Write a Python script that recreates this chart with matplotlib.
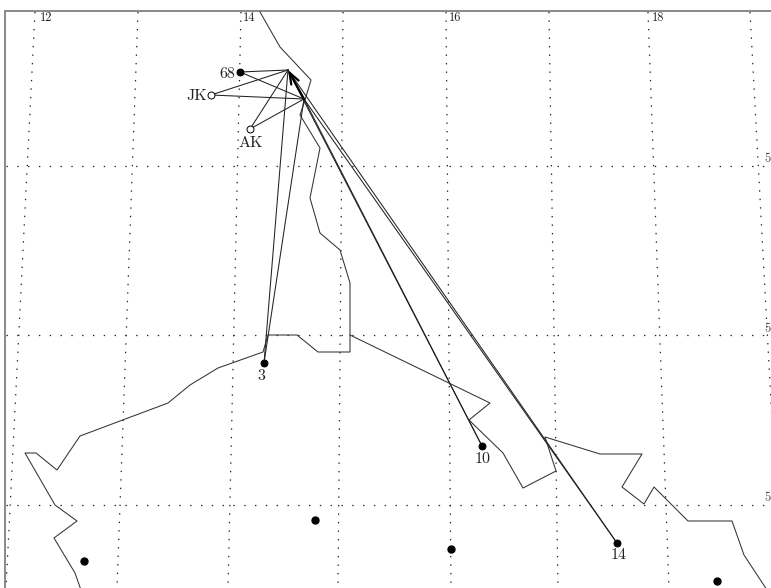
import matplotlib
matplotlib.use("Agg")
import matplotlib.pyplot as plt

W, H = 771, 588
merid_top = [35, 138, 241, 343, 446, 549, 648, 750]
merid_bot = [6, 117, 228, 338, 451, 558, 669, 781]
parallels = [165.5, 335, 505]
lon_labels = ["12", "14", "16", "18"]
lon_label_x = [40, 243, 449, 652]
lat_label = "5"
lat_label_y = [159, 329, 498]

coast_a = [(260, 12), (280, 47), (311, 80), (305, 100), (300, 115), (320, 148), (310, 198),
           (320, 233), (340, 250), (350, 283), (350, 352), (318, 352), (297, 335), (268, 335),
           (263, 352), (218, 368), (190, 385), (168, 403), (80, 436), (57, 470), (36, 453),
           (25, 453), (55, 505), (77, 521), (54, 538), (75, 573), (81, 590)]
coast_b = [(350, 335), (490, 403), (469, 420), (503, 453), (523, 488), (556, 471), (545, 437),
           (600, 454), (642, 454), (622, 487), (644, 504), (654, 487), (688, 521), (732, 521),
           (744, 555), (767, 590)]

target_a = (288, 70)
target_b = (304, 99)
ray_names = ["3", "10", "14", "68", "JK", "AK"]
ray_x = [264, 482, 617, 240, 211, 250]
ray_y = [363, 446, 543, 72, 95, 129]
ray_filled = [True, True, True, True, False, False]
label_xy = [(261, 376), (483, 459), (619, 555), (227, 74), (197, 96), (251, 143)]
other_x = [84, 315, 451, 717]
other_y = [561, 520, 549, 581]

plt.rcParams["font.family"] = ["cmr10", "DejaVu Serif"]
plt.rcParams["axes.formatter.use_mathtext"] = True
plt.rcParams["lines.scale_dashes"] = False
fig = plt.figure(figsize=(W / 100, H / 100), dpi=100)
ax = fig.add_axes([0, 0, 1, 1])
ax.set_xlim(0, W)
ax.set_ylim(H, 0)
ax.axis("off")

dots_v = (0, (1.0, 5.12))
dots_h = (0, (1.0, 6.78))
for t, b in zip(merid_top, merid_bot):
    l, = ax.plot([t, b], [12, 588], color="#222222", lw=0.9, ls=dots_v, clip_on=True)
    l.set_dash_capstyle("butt")
for y in parallels:
    l, = ax.plot([6, W], [y, y], color="#222222", lw=0.9, ls=dots_h)
    l.set_dash_capstyle("butt")

ax.plot([5, 5, W], [H, 11, 11], color="#808080", lw=1.3, solid_joinstyle="miter")

for c in (coast_a, coast_b):
    ax.plot([p[0] for p in c], [p[1] for p in c], color="#333333", lw=0.75)

for x, y in zip(ray_x, ray_y):
    ax.plot([x, target_a[0]], [y, target_a[1]], color="#222222", lw=0.75)
    ax.plot([x, target_b[0]], [y, target_b[1]], color="#222222", lw=0.75)
ax.annotate("", xy=target_a, xytext=target_b,
            arrowprops=dict(arrowstyle="->,head_length=0.8,head_width=0.3", color="black", lw=1.6,
                            shrinkA=0, shrinkB=0))

for x, y, f in zip(ray_x, ray_y, ray_filled):
    ax.plot(x, y, "o", ms=5, mfc="black" if f else "white", mec="black", mew=0.7, zorder=5)
ax.plot(other_x, other_y, "o", ms=5, color="black", ls="none", zorder=5)

for n, (x, y), in zip(ray_names, label_xy):
    ax.text(x, y, n, fontsize=11.5, color="#222222", ha="center", va="center")
for s, x in zip(lon_labels, lon_label_x):
    ax.text(x, 18, s, fontsize=9, color="#222222", ha="left", va="center")
for y in lat_label_y:
    ax.text(764, y, lat_label, fontsize=9, color="#444444", ha="left", va="center", clip_on=True)

fig.savefig("out.png", dpi=100)
